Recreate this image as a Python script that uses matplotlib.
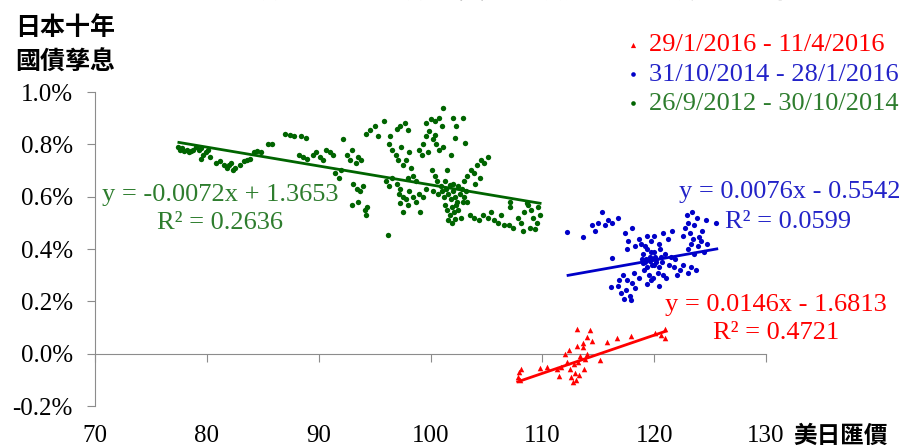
import matplotlib
matplotlib.use("Agg")
import matplotlib.pyplot as plt
import numpy as np
from matplotlib.ticker import FuncFormatter, MultipleLocator

plt.rcParams['font.family'] = ['Liberation Serif', 'Noto Sans CJK TC', 'DejaVu Sans']

# 26/9/2012 - 30/10/2014 (green)
green_x = [77.4, 77.6, 77.8, 78.0, 78.2, 78.4, 78.6, 78.8, 79.0, 79.3, 79.5, 79.7, 79.9, 80.1, 80.3, 79.5,
           80.8, 81.2, 81.5, 81.8, 82.0, 82.3, 82.5, 82.2, 83.0, 83.3, 83.6, 83.9, 84.2, 84.5, 84.8, 85.5,
           85.8, 87.0, 87.4, 87.8, 88.4, 88.9, 88.2, 88.6, 89.0, 89.5, 89.8, 90.1, 90.4, 90.7, 91.0, 91.3,
           91.5, 91.8, 92.0, 92.2, 92.5, 92.8, 93.0, 93.3, 93.5, 93.8, 93.1, 93.4, 93.7, 94.0, 93.0, 93.5,
           94.1, 94.2, 94.3, 94.2, 94.6, 95.0, 95.3, 95.8, 96.2,
           96.0, 96.3, 96.6, 97.0, 97.3, 96.3, 96.6, 96.9, 97.1, 97.4, 96.4, 97.0, 97.3, 97.7, 98.0, 97.5,
           97.8, 98.1, 98.3, 97.2, 97.5, 97.8, 98.1, 98.4, 98.7, 99.0, 99.3, 99.6, 97.3, 98.0, 97.5, 98.0,
           98.4, 98.7, 99.1, 99.0, 99.3, 99.6, 99.9, 99.2, 99.8, 99.6, 100.0, 100.4, 100.8, 101.0, 100.2,
           100.5, 100.8, 101.1, 100.4, 101.1, 102.0, 102.3, 102.9, 102.2, 103.1, 101.8,
           100.1, 100.4, 100.6, 100.9, 100.2, 100.7, 101.5,
           101.0, 101.2, 101.4, 101.6, 101.8, 102.0, 102.2, 102.4, 102.6, 102.8, 103.0, 103.2, 101.3, 101.5,
           101.7, 101.9, 102.1, 102.3, 102.5, 102.7, 102.9, 101.6, 101.9, 102.2, 102.5, 101.7, 103.3, 101.3,
           102.0,
           103.0, 103.3, 103.6, 103.9, 104.2, 104.5, 104.8, 105.1, 104.0, 104.4, 103.5, 103.9, 104.3, 104.7,
           105.1, 105.4, 105.7, 106.0, 106.3, 106.6, 107.1, 107.1, 107.0, 107.4, 107.8, 108.1, 108.4, 108.7,
           109.0, 109.2, 109.5, 109.8, 108.3, 108.9, 109.3, 109.6, 108.6]
green_y = [0.79, 0.78, 0.785, 0.775, 0.78, 0.77, 0.775, 0.78, 0.79, 0.78, 0.785, 0.76, 0.77, 0.78, 0.75, 0.745,
           0.73, 0.735, 0.72, 0.71, 0.72, 0.70, 0.71, 0.73, 0.72, 0.735, 0.74, 0.745, 0.77, 0.775, 0.77, 0.80,
           0.80, 0.84, 0.835, 0.83, 0.83, 0.825, 0.76, 0.75, 0.745, 0.76, 0.77, 0.75, 0.74, 0.78, 0.77, 0.76,
           0.69, 0.67, 0.70, 0.82, 0.76, 0.74, 0.78, 0.73, 0.75, 0.74, 0.65, 0.63, 0.62, 0.64, 0.57, 0.58,
           0.55, 0.53, 0.56, 0.84, 0.855, 0.87, 0.83, 0.89, 0.455,
           0.66, 0.64, 0.67, 0.65, 0.63, 0.80, 0.78, 0.76, 0.74, 0.79, 0.83, 0.86, 0.87, 0.88, 0.855, 0.72,
           0.74, 0.77, 0.71, 0.61, 0.60, 0.59, 0.62, 0.60, 0.58, 0.61, 0.60, 0.63, 0.575, 0.57, 0.54, 0.67,
           0.68, 0.66, 0.54, 0.78, 0.80, 0.83, 0.85, 0.76, 0.77, 0.88, 0.895, 0.89, 0.90, 0.87, 0.82,
           0.80, 0.78, 0.79, 0.835, 0.94, 0.90, 0.87, 0.90, 0.825, 0.805, 0.76,
           0.70, 0.68, 0.66, 0.64, 0.62, 0.61, 0.70,
           0.62, 0.60, 0.63, 0.61, 0.59, 0.62, 0.60, 0.58, 0.61, 0.63, 0.60, 0.62, 0.57, 0.55,
           0.53, 0.56, 0.54, 0.57, 0.55, 0.52, 0.58, 0.51, 0.50, 0.515, 0.64, 0.645, 0.58, 0.66,
           0.65,
           0.66, 0.68, 0.70, 0.69, 0.72, 0.74, 0.73, 0.75, 0.65, 0.67, 0.53, 0.52, 0.51, 0.53,
           0.52, 0.54, 0.51, 0.50, 0.53, 0.49, 0.58, 0.56, 0.49, 0.48, 0.52, 0.50, 0.54, 0.57,
           0.55, 0.52, 0.50, 0.53, 0.47, 0.48, 0.475, 0.56, 0.575]

# 31/10/2014 - 28/1/2016 (blue)
blue_x = [112.2, 113.6, 114.4, 114.7, 115.0, 115.3, 115.6, 115.9, 116.2, 116.8, 116.2, 116.1,
          116.8, 117.0, 117.3, 117.5, 117.8, 118.0, 118.3, 118.6, 117.2, 117.6, 118.2, 116.9, 117.9,
          117.4, 117.7, 118.0, 118.3, 118.6, 117.6,
          118.8, 119.0, 119.2, 119.4, 119.6, 119.8, 120.0, 120.2, 120.4, 119.1, 119.5, 119.9, 120.3, 120.7,
          121.0, 119.3, 119.7, 120.1, 120.5, 119.0, 119.4, 119.8, 120.2, 120.6, 119.6, 120.0, 119.2, 118.9,
          120.8, 121.1, 119.4, 119.7, 120.4,
          119.7, 120.0, 120.4, 120.8, 121.2, 121.6, 119.4,
          121.3, 121.5, 121.8, 121.9, 122.3, 122.6, 123.0, 123.3, 123.7, 122.0,
          122.6, 122.8, 123.0, 123.2, 123.4, 123.6, 123.8, 122.9,
          123.0, 123.3, 123.6, 123.9, 124.2, 124.5, 124.7, 124.3, 124.6, 125.5, 124.0, 123.5]
blue_y = [0.465, 0.445, 0.49, 0.47, 0.50, 0.54, 0.49, 0.51, 0.50, 0.52, 0.365, 0.255,
          0.26, 0.23, 0.21, 0.245, 0.22, 0.27, 0.25, 0.29, 0.30, 0.28, 0.31, 0.28, 0.205,
          0.46, 0.43, 0.48, 0.41, 0.44, 0.40,
          0.42, 0.38, 0.35, 0.40, 0.37, 0.34, 0.39, 0.36, 0.33, 0.32, 0.30, 0.29, 0.31, 0.35,
          0.38, 0.36, 0.39, 0.37, 0.40, 0.345, 0.33, 0.36, 0.35, 0.37, 0.355, 0.34, 0.41, 0.36,
          0.30, 0.29, 0.265, 0.28, 0.26,
          0.43, 0.45, 0.42, 0.46, 0.44, 0.47, 0.45,
          0.34, 0.37, 0.33, 0.36, 0.32, 0.34, 0.31, 0.33, 0.32, 0.30,
          0.45, 0.48, 0.50, 0.46, 0.54, 0.49, 0.52, 0.53,
          0.40, 0.42, 0.38, 0.41, 0.43, 0.39, 0.42, 0.47, 0.51, 0.50, 0.445, 0.44]

# 29/1/2016 - 11/4/2016 (red)
red_x = [107.8, 107.9, 108.0, 108.1, 109.8, 110.4, 111.3, 111.5, 111.7, 112.0, 112.2, 112.4, 112.5,
         112.6, 112.7, 112.8, 112.9, 113.0, 113.1, 113.2, 113.3, 113.4, 113.6, 113.7, 113.8, 114.0,
         114.0, 113.6, 113.1, 114.3, 114.4, 115.2, 115.8, 116.7, 117.9, 120.1, 121.0, 121.0, 120.6]
red_y = [-0.09, -0.07, -0.10, -0.06, -0.055, -0.05, -0.06, -0.085, -0.05, 0.0, -0.03, 0.015, -0.06,
         -0.09, -0.11, -0.04, -0.075, -0.10, 0.03, -0.03, -0.08, -0.01, 0.04, -0.06, -0.02, 0.065,
         0.0, 0.025, 0.094, 0.09, 0.05, -0.025, 0.045, 0.06, 0.068, 0.08, 0.095, 0.06, 0.07]

# trend lines as printed on the chart: slope, intercept, x-range
green_fit = (-0.0072, 1.3653, 77.5, 109.8)
blue_fit = (0.0076, -0.5542, 112.3, 125.6)
red_fit = (0.0146, -1.6813, 107.8, 121.0)

labels = ["29/1/2016 - 11/4/2016", "31/10/2014 - 28/1/2016", "26/9/2012 - 30/10/2014"]
c_green, c_blue, c_red = "#006400", "#0000c8", "#ff0000"
t_green, t_blue = "#2e7d2e", "#2323c8"

W, H = 904, 448
fig = plt.figure(figsize=(W / 100, H / 100), dpi=100)
ax = fig.add_axes([95 / W, 1 - 406 / H, (766 - 95) / W, (406 - 92) / H])

ax.scatter(green_x, green_y, s=15, color=c_green, linewidths=0, zorder=3)
ax.scatter(blue_x, blue_y, s=14, color=c_blue, linewidths=0, zorder=3)
ax.scatter(red_x, red_y, s=16, marker='^', color=c_red, linewidths=0, zorder=3)

for (m, b, x0, x1), c in [(green_fit, c_green), (blue_fit, c_blue), (red_fit, c_red)]:
    xs = np.array([x0, x1])
    ax.plot(xs, m * xs + b, color=c, lw=2, zorder=4)

ax.set_xlim(70, 130)
ax.set_ylim(-0.2, 1.0)
ax.xaxis.set_major_locator(MultipleLocator(10))
ax.yaxis.set_major_locator(MultipleLocator(0.2))
ax.yaxis.set_major_formatter(FuncFormatter(lambda v, p: "%.1f%%" % v))

spine_c = "#8c8c8c"
for s in ['top', 'right']:
    ax.spines[s].set_visible(False)
ax.spines['bottom'].set_position(('data', 0))
ax.spines['bottom'].set_color(spine_c)
ax.spines['left'].set_color(spine_c)
ax.tick_params(axis='x', direction='out', length=6, color=spine_c, labelbottom=False)
ax.tick_params(axis='y', direction='out', length=6, color=spine_c, labelsize=18, pad=10)

sec = ax.secondary_xaxis('bottom')
sec.spines['bottom'].set_visible(False)
sec.xaxis.set_major_locator(MultipleLocator(10))
sec.tick_params(length=0, labelsize=18, pad=14)

fig.text(15 / W, 1 - 28 / H, "日本十年", fontsize=18, fontweight='bold', va='center', ha='left')
fig.text(15 / W, 1 - 63 / H, "國債孳息", fontsize=18, fontweight='bold', va='center', ha='left')
fig.text(793 / W, 1 - 437 / H, "美日匯價", fontsize=17, fontweight='bold', va='center', ha='left')
fig.text(452 / W, 1 + 9 / H, "圖4：2012年9月至2016年4月，美日匯價與日本國債孳息關係",
         fontsize=19, fontweight='bold', va='center', ha='center')

eq = 19
fig.text(220 / W, 1 - 195 / H, "y = -0.0072x + 1.3653", color=t_green, fontsize=eq, ha='center', va='center')
fig.text(220 / W, 1 - 223 / H, "R² = 0.2636", color=t_green, fontsize=eq, ha='center', va='center')
fig.text(790 / W, 1 - 192 / H, "y = 0.0076x - 0.5542", color=t_blue, fontsize=eq, ha='center', va='center')
fig.text(788 / W, 1 - 222 / H, "R² = 0.0599", color=t_blue, fontsize=eq, ha='center', va='center')
fig.text(776 / W, 1 - 305 / H, "y = 0.0146x - 1.6813", color=c_red, fontsize=eq, ha='center', va='center')
fig.text(776 / W, 1 - 333 / H, "R² = 0.4721", color=c_red, fontsize=eq, ha='center', va='center')

h_red = ax.scatter([], [], s=14, marker='^', color=c_red, linewidths=0)
h_blue = ax.scatter([], [], s=11, color=c_blue, linewidths=0)
h_green = ax.scatter([], [], s=11, color=c_green, linewidths=0)
fig.legend([h_red, h_blue, h_green], labels, loc='upper left',
           bbox_to_anchor=(625 / W, 1 - 33 / H), frameon=False, fontsize=19,
           handlelength=0.6, handletextpad=0.3, labelspacing=0.22, borderpad=0,
           borderaxespad=0, scatterpoints=1, labelcolor=[c_red, t_blue, t_green])

fig.savefig("out.png", dpi=100)
